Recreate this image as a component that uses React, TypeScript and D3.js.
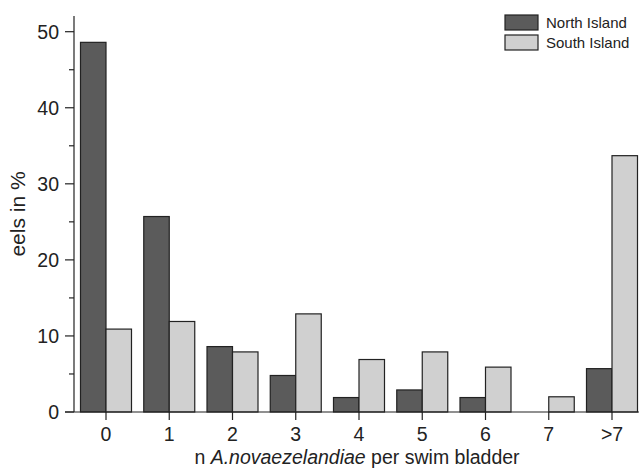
import React from "react";
import * as d3 from "d3";

const categories = ["0", "1", "2", "3", "4", "5", "6", "7", ">7"];
const northIsland = [48.6, 25.7, 8.6, 4.8, 1.9, 2.9, 1.9, 0, 5.7];
const southIsland = [10.9, 11.9, 7.9, 12.9, 6.9, 7.9, 5.9, 2.0, 33.7];
const yTicks = [0, 10, 20, 30, 40, 50];
const yMinorTicks = [5, 15, 25, 35, 45];

const width = 639;
const height = 471;
const dark = "#5b5b5b";
const light = "#d0d0d0";
const ink = "#222222";
const font = "'Liberation Sans', Arial, sans-serif";

const App = () => {
  const x = d3.scalePoint<string>().domain(categories).range([106, 612]);
  const y = d3.scaleLinear().domain([0, 50]).range([412, 31.7]);
  const barW = 25.5;
  const axisX = 74;

  return (
    <svg
      width={width}
      height={height}
      style={{ position: "absolute", left: 0, top: 0, background: "#fff" }}
      fontFamily={font}
    >
      {/* bars */}
      {categories.map((c, i) => (
        <g key={c}>
          {northIsland[i] > 0 && (
            <rect
              x={x(c)! - barW}
              y={y(northIsland[i])}
              width={barW}
              height={y(0) - y(northIsland[i])}
              fill={dark}
              stroke={ink}
              strokeWidth={1.2}
            />
          )}
          <rect
            x={x(c)!}
            y={y(southIsland[i])}
            width={barW}
            height={y(0) - y(southIsland[i])}
            fill={light}
            stroke={ink}
            strokeWidth={1.2}
          />
        </g>
      ))}

      {/* y axis */}
      <line x1={axisX} x2={axisX} y1={16} y2={y(0)} stroke={ink} strokeWidth={1.2} />
      {yTicks.map((t) => (
        <g key={t}>
          <line x1={65} x2={axisX} y1={y(t)} y2={y(t)} stroke={ink} strokeWidth={1.2} />
          <text
            x={59}
            y={y(t)}
            dy="0.36em"
            textAnchor="end"
            fontSize={19.5}
            fill={ink}
          >
            {t}
          </text>
        </g>
      ))}
      {yMinorTicks.map((t) => (
        <line key={t} x1={69} x2={axisX} y1={y(t)} y2={y(t)} stroke={ink} strokeWidth={1.2} />
      ))}
      <text
        transform={`translate(25, 214) rotate(-90)`}
        textAnchor="middle"
        fontSize={21}
        fill={ink}
      >
        eels in %
      </text>

      {/* x axis */}
      <line x1={65} x2={width} y1={y(0)} y2={y(0)} stroke={ink} strokeWidth={1.2} />
      {categories.map((c) => (
        <g key={c}>
          <line x1={x(c)} x2={x(c)} y1={y(0)} y2={y(0) + 8} stroke={ink} strokeWidth={1.2} />
          <text x={x(c)} y={y(0) + 29} textAnchor="middle" fontSize={19.5} fill={ink}>
            {c}
          </text>
        </g>
      ))}
      <text x={357} y={464} textAnchor="middle" fontSize={19.5} fill={ink}>
        n <tspan fontStyle="italic">A.novaezelandiae</tspan> per swim bladder
      </text>

      {/* legend */}
      {[
        { label: "North Island", color: dark },
        { label: "South Island", color: light },
      ].map((d, i) => (
        <g key={d.label} transform={`translate(505, ${15 + i * 20})`}>
          <rect width={33} height={15} fill={d.color} stroke={ink} strokeWidth={1.2} />
          <text x={41} y={13} fontSize={15} fill={ink}>
            {d.label}
          </text>
        </g>
      ))}
    </svg>
  );
};

export default App;
